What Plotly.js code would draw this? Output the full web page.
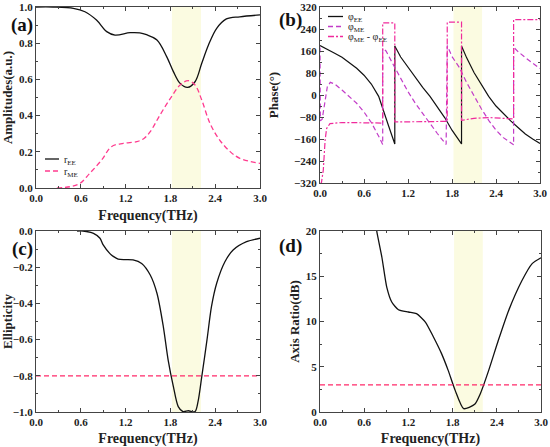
<!DOCTYPE html>
<html>
<head>
<meta charset="utf-8">
<script src="https://cdn.plot.ly/plotly-3.0.1.min.js"></script>
<style>html,body{margin:0;padding:0;background:#fff;}#chart{width:550px;height:447px;}</style>
</head>
<body>
<div id="chart"></div>
<script>
// ---------- data ----------
const bandStart = 1.82, bandEnd = 2.21;

// (a) amplitudes
const freqEE = [0, 0.23, 0.5, 0.656, 0.81, 0.947, 1.058, 1.26, 1.39, 1.48, 1.62, 1.75, 1.84, 1.93, 2.03, 2.13, 2.22, 2.31, 2.42, 2.55, 2.73, 3.0];
const rEE    = [1.0, 1.0, 0.993, 0.974, 0.928, 0.864, 0.845, 0.858, 0.857, 0.847, 0.818, 0.726, 0.643, 0.578, 0.556, 0.587, 0.689, 0.790, 0.882, 0.934, 0.946, 0.956];
const freqME = [0.28, 0.455, 0.59, 0.72, 0.88, 1.01, 1.17, 1.35, 1.45, 1.53, 1.66, 1.80, 1.93, 2.04, 2.13, 2.22, 2.33, 2.46, 2.60, 2.73, 3.0];
const rME    = [0.0, 0.007, 0.026, 0.081, 0.155, 0.228, 0.247, 0.256, 0.275, 0.311, 0.403, 0.495, 0.569, 0.593, 0.569, 0.486, 0.357, 0.265, 0.201, 0.164, 0.136];

// (b) phases
const freqPhiEE = [0, 0.1, 0.2, 0.3, 0.4, 0.5, 0.6, 0.7, 0.8, 0.86, 0.93, 1.02, 1.02, 1.1, 1.2, 1.3, 1.4, 1.5, 1.6, 1.7, 1.8, 1.93, 1.93, 2.0, 2.1, 2.2, 2.3, 2.4, 2.5, 2.6, 2.7, 2.8, 2.9, 3.0];
const phiEE     = [180, 167, 152, 137, 118, 97, 72, 40, -5, -55, -108, -178, 178, 138, 100, 66, 28, -5, -42, -82, -128, -178, 178, 135, 82, 37, -5, -40, -68, -94, -118, -142, -160, -176];
const freqPhiME = [0, 0.005, 0.03, 0.06, 0.1, 0.14, 0.2, 0.3, 0.4, 0.5, 0.6, 0.7, 0.8, 0.855, 0.855, 0.9, 1.0, 1.1, 1.2, 1.3, 1.4, 1.5, 1.6, 1.72, 1.735, 1.8, 1.9, 2.0, 2.1, 2.2, 2.3, 2.4, 2.5, 2.64, 2.64, 2.7, 2.8, 2.9, 3.0];
const phiME     = [173, -94, -88, -30, 30, 46, 40, 18, -5, -30, -62, -100, -150, -180, 170, 160, 110, 60, 12, -30, -68, -103, -140, -180, 180, 140, 100, 45, -3, -50, -92, -128, -155, -181, 174, 158, 136, 116, 96];
const freqDiff  = [0, 0.02, 0.045, 0.07, 0.09, 0.136, 0.3, 0.6, 0.855, 0.855, 1.02, 1.02, 1.3, 1.735, 1.735, 1.93, 1.93, 2.1, 2.3, 2.5, 2.64, 2.64, 3.0];
const phiDiff   = [-325, -318, -273, -164, -122, -104, -100, -100, -102, 262, 262, -98, -97, -96, 265, 265, -92, -85, -82, -84, -87, 274, 274];

// (c) ellipticity
const freqEll = [0.55, 0.63, 0.77, 0.857, 0.90, 0.99, 1.035, 1.10, 1.2, 1.30, 1.415, 1.53, 1.62, 1.705, 1.77, 1.84, 1.905, 1.97, 2.04, 2.13, 2.17, 2.22, 2.29, 2.35, 2.42, 2.53, 2.64, 2.82, 3.0];
const ellip   = [0, 0, -0.013, -0.04, -0.077, -0.125, -0.14, -0.155, -0.158, -0.16, -0.179, -0.243, -0.344, -0.528, -0.713, -0.86, -0.97, -0.998, -0.993, -0.998, -0.943, -0.805, -0.602, -0.418, -0.289, -0.17, -0.105, -0.059, -0.04];
const ellipThreshold = -0.8;

// (d) axis ratio
const freqAR = [0.74, 0.77, 0.84, 0.906, 0.974, 1.065, 1.20, 1.31, 1.43, 1.54, 1.65, 1.74, 1.835, 1.95, 2.10, 2.175, 2.29, 2.42, 2.56, 2.74, 2.88, 3.0];
const axisRatio = [22, 20, 17.1, 13.8, 12.15, 11.3, 11.05, 10.87, 9.94, 8.29, 6.45, 4.6, 2.39, 0.37, 0.85, 2.0, 4.6, 7.9, 11.2, 14.5, 16.4, 17.05];
const arThreshold = 3;

const xTicks = [0, 0.6, 1.2, 1.8, 2.4, 3.0];
const legendA = ['r<sub>EE</sub>', 'r<sub>ME</sub>'];
const legendB = ['φ<sub>EE</sub>', 'φ<sub>ME</sub>', 'φ<sub>ME</sub> - φ<sub>EE</sub>'];

// ---------- styling ----------
const FONT = 'Liberation Serif, Times New Roman, serif';
const black = '#111111', pink = '#ff3b8e', purple = '#c23cc8', pinkDot = '#f02a9c', thr = '#ff2a6a';
const dashA = '5px,3px', dashDot = '6px,2px,2px,2px';

function xax(domain, showTitle, anchor) {
  return {
    domain: domain, anchor: anchor, range: [0, 3], tickvals: xTicks, tickformat: '.1f',
    ticks: 'inside', ticklen: 4, tickcolor: '#444', showline: true, linecolor: '#444', linewidth: 1,
    mirror: 'ticks', showgrid: false, zeroline: false,
    minor: {dtick: 0.3, ticks: 'inside', ticklen: 2, tickcolor: '#444'},
    tickfont: {family: FONT, size: 11, color: '#222', weight: 'bold'},
    title: showTitle ? {text: 'Frequency(THz)', font: {family: FONT, size: 14, color: '#222', weight: 'bold'}, standoff: 6} : {text: ''}
  };
}
function yax(domain, range, dtick, minor, fmt, title, anchor, standoff) {
  return {
    domain: domain, anchor: anchor, range: range, dtick: dtick, tick0: range[0], tickformat: fmt,
    ticks: 'inside', ticklen: 4, tickcolor: '#444', showline: true, linecolor: '#444', linewidth: 1,
    mirror: 'ticks', showgrid: false, zeroline: false,
    minor: {dtick: minor, ticks: 'inside', ticklen: 2, tickcolor: '#444'},
    tickfont: {family: FONT, size: 11, color: '#222', weight: 'bold'},
    title: {text: title, font: {family: FONT, size: 13, color: '#222', weight: 'bold'}, standoff: standoff}
  };
}

const H = 447, W = 550;
const px = v => v / W, py = v => 1 - v / H;
const dxL = [36 / W, 260 / W], dxR = [320 / W, 540 / W];
const dyA = [1 - 188 / H, 1 - 7 / H], dyB = [1 - 183 / H, 1 - 7 / H], dyC = [1 - 412 / H, 1 - 231 / H];

const traces = [
  {x: freqEE, y: rEE, xaxis: 'x', yaxis: 'y', mode: 'lines', name: legendA[0], line: {color: black, width: 1.3, shape: 'spline', smoothing: 1}},
  {x: freqME, y: rME, xaxis: 'x', yaxis: 'y', mode: 'lines', name: legendA[1], line: {color: pink, width: 1.3, dash: dashA, shape: 'spline', smoothing: 1}},
  {x: freqPhiEE, y: phiEE, xaxis: 'x2', yaxis: 'y2', mode: 'lines', name: legendB[0], line: {color: black, width: 1.2}},
  {x: freqPhiME, y: phiME, xaxis: 'x2', yaxis: 'y2', mode: 'lines', name: legendB[1], line: {color: purple, width: 1.2, dash: dashA}},
  {x: freqDiff, y: phiDiff, xaxis: 'x2', yaxis: 'y2', mode: 'lines', name: legendB[2], line: {color: pinkDot, width: 1.2, dash: dashDot}},
  {x: freqEll, y: ellip, xaxis: 'x3', yaxis: 'y3', mode: 'lines', line: {color: black, width: 1.3, shape: 'spline', smoothing: 0.8}},
  {x: [0, 3], y: [ellipThreshold, ellipThreshold], xaxis: 'x3', yaxis: 'y3', mode: 'lines', line: {color: thr, width: 1.2, dash: dashA}},
  {x: freqAR, y: axisRatio, xaxis: 'x4', yaxis: 'y4', mode: 'lines', line: {color: black, width: 1.3, shape: 'spline', smoothing: 0.6}},
  {x: [0, 3], y: [arThreshold, arThreshold], xaxis: 'x4', yaxis: 'y4', mode: 'lines', line: {color: thr, width: 1.2, dash: dashA}}
];

const shapes = ['x', 'x2', 'x3', 'x4'].map((xr, i) => ({
  type: 'rect', xref: xr, yref: (i === 0 ? 'y' : 'y' + (i + 1)) + ' domain',
  x0: bandStart, x1: bandEnd, y0: 0, y1: 1, fillcolor: '#fbfbe1', line: {width: 0}, layer: 'below'
}));

// compact legends (line sample + label) positioned like the original
const legendFont = {family: FONT, size: 10, color: '#222'};
const annotations = [];
function addLegend(items, x0, x1, ys) {
  items.forEach((it, i) => {
    shapes.push({type: 'line', xref: 'paper', yref: 'paper', x0: px(x0), x1: px(x1), y0: py(ys[i]), y1: py(ys[i]),
      line: {color: it.color, width: 1.3, dash: it.dash || 'solid'}});
    annotations.push({text: it.name, xref: 'paper', yref: 'paper', x: px(x1 + 3), y: py(ys[i] + 1), xanchor: 'left', yanchor: 'middle',
      showarrow: false, font: legendFont});
  });
}
addLegend([{name: legendA[0], color: black}, {name: legendA[1], color: pink, dash: dashA}], 45, 59, [159, 171]);
addLegend([{name: legendB[0], color: black}, {name: legendB[1], color: purple, dash: dashA}, {name: legendB[2], color: pinkDot, dash: dashDot}], 328, 343, [16.5, 26.5, 36.5]);

const labelFont = {family: FONT, size: 19, color: '#111', weight: 'bold'};
[
  {text: '(a)', x: 22, y: 25},
  {text: '(b)', x: 290, y: 20},
  {text: '(c)', x: 22, y: 249},
  {text: '(d)', x: 290, y: 246}
].forEach(a => annotations.push({text: a.text, x: px(a.x), y: py(a.y), xref: 'paper', yref: 'paper', showarrow: false, font: labelFont, xanchor: 'center', yanchor: 'middle'}));

const layout = {
  width: W, height: H, margin: {l: 0, r: 0, t: 0, b: 0}, paper_bgcolor: '#fff', plot_bgcolor: 'rgba(0,0,0,0)',
  showlegend: false,
  xaxis: xax(dxL, true, 'y'),
  yaxis: yax(dyA, [0, 1], 0.2, 0.1, '.1f', 'Amplitudes(a.u.)', 'x', 3),
  xaxis2: xax(dxR, false, 'y2'),
  yaxis2: yax(dyB, [-320, 320], 80, 40, 'd', 'Phase(°)', 'x2', 12),
  xaxis3: xax(dxL, true, 'y3'),
  yaxis3: yax(dyC, [-1, 0], 0.2, 0.1, '.1f', 'Ellipticity', 'x3', 3),
  xaxis4: xax([320 / W, 541 / W], true, 'y4'),
  yaxis4: yax(dyC, [0, 20], 5, 2.5, 'd', 'Axis Ratio(dB)', 'x4', 3),
  shapes: shapes, annotations: annotations
};

Plotly.newPlot('chart', traces, layout, {displayModeBar: false, staticPlot: true});
</script>
</body>
</html>
